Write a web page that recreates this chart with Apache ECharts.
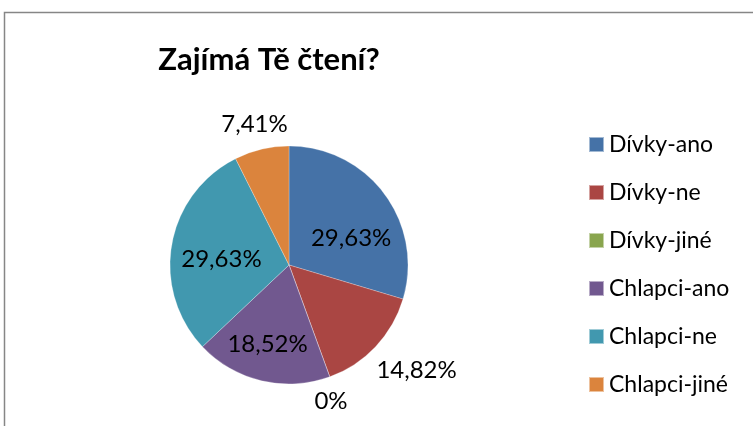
<!DOCTYPE html>
<html>
<head>
<meta charset="utf-8">
<script src="https://cdn.jsdelivr.net/npm/echarts@6/dist/echarts.min.js"></script>
<style>
  html, body { margin: 0; padding: 0; background: #fff; }
  #chart { width: 753px; height: 426px; }
</style>
</head>
<body>
<div id="chart"></div>
<script>
// data
const categories = ['Dívky-ano', 'Dívky-ne', 'Dívky-jiné', 'Chlapci-ano', 'Chlapci-ne', 'Chlapci-jiné'];
const values = [29.63, 14.82, 0, 18.52, 29.63, 7.41];
const labelTexts = ['29,63%', '14,82%', '0%', '18,52%', '29,63%', '7,41%'];
const insideLabels = [true, false, false, true, true, false];
const colors = ['#4572A7', '#AA4643', '#89A54E', '#71588F', '#4198AF', '#DB843D'];

let myChart = echarts.init(document.getElementById('chart'));

let pieData = categories.map((name, i) => ({
  name: name,
  value: values[i],
  itemStyle: { color: colors[i] },
  label: insideLabels[i] ? { position: 'inner' } : { position: 'outside' }
}));

// small nudges so labels sit where the original placed them
const nudge = [[12, 11], [-10, 18], [-23, 17], [-7, 18], [-6, 5], [33, -17]];

let option = {
  animation: false,
  textStyle: { fontFamily: 'Lato' },
  graphic: [{
    type: 'rect',
    shape: { x: 4.5, y: 12.5, width: 800, height: 500 },
    style: { fill: 'none', stroke: '#868686', lineWidth: 1.5 },
    silent: true
  }],
  title: {
    text: 'Zajímá Tě čtení?',
    left: 264,
    textAlign: 'center',
    top: 39,
    textStyle: { fontFamily: 'Lato', fontSize: 31, fontWeight: 'bold', color: '#000' }
  },
  legend: {
    orient: 'vertical',
    left: 583,
    top: 128,
    data: categories,
    itemWidth: 15,
    itemHeight: 15,
    itemGap: 25,
    icon: 'rect',
    textStyle: { fontFamily: 'Lato', fontSize: 23, color: '#000', padding: [0, 0, 0, 0] }
  },
  series: [{
    type: 'pie',
    center: [289, 265],
    radius: [0, 119],
    startAngle: 90,
    clockwise: true,
    data: pieData,
    itemStyle: { borderColor: 'rgba(255,255,255,0.5)', borderWidth: 0.5 },
    label: {
      show: true,
      formatter: p => labelTexts[p.dataIndex],
      fontFamily: 'Lato',
      fontSize: 24,
      color: '#000'
    },
    labelLine: { show: false, length: 8, length2: 0 },
    labelLayout: p => ({ dx: nudge[p.dataIndex][0], dy: nudge[p.dataIndex][1] }),
    emphasis: { disabled: true }
  }]
};

myChart.setOption(option);
</script>
</body>
</html>
